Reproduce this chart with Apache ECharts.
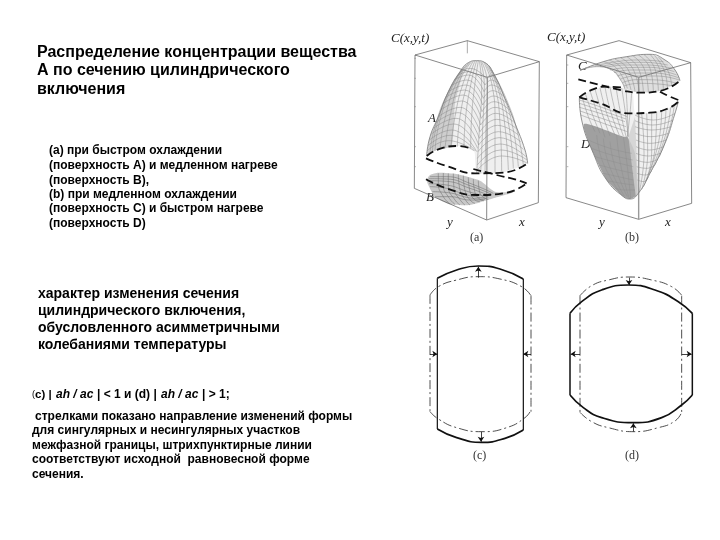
<!DOCTYPE html>
<html><head><meta charset="utf-8">
<style>html,body{margin:0;padding:0;background:#fff}#c{width:720px;height:540px}</style>
<script src="https://cdn.jsdelivr.net/npm/echarts@6/dist/echarts.min.js"></script>
</head><body><div id="c"></div>
<script>
const titleLines=["Распределение концентрации вещества","А по сечению цилиндрического","включения"];
const abLines=["(а) при быстром охлаждении","(поверхность А) и медленном нагреве","(поверхность В),","(b) при медленном охлаждении","(поверхность С) и быстром нагреве","(поверхность D)"];
const changeLines=["характер изменения сечения","цилиндрического включения,","обусловленного асимметричными","колебаниями температуры"];
const noteLines=["стрелками показано направление изменений формы","для сингулярных и несингулярных участков","межфазной границы, штрихпунктирные линии","соответствуют исходной  равновесной форме","сечения."];
// panel a values
const boxA=[[105,105],[262,62],[478,125],[322,172],[105,105],[103,505],[320,600],[475,548],[478,125]];
const boxAFront=[[322,172],[320,600]];
const boxAHidden=[[262,62],[262,100]];
const ticksA=[[103,115],[108,115],null,[103,175],[108,175],null,[103,260],[108,260],null,[103,380],[108,380],null,[103,440],[108,440]];
const domeA=[[140,405],[150,350],[175,290],[205,215],[240,155],[265,128],[290,122],[315,128],[340,160],[375,235],[405,310],[435,390],[443,430],[370,458],[290,460],[283,395],[235,378],[175,388]];
const shadeA=[[142,400],[150,350],[175,290],[205,215],[240,155],[250,150],[225,250],[215,378],[175,388]];
const outlineA=[[140,405],[150,350],[175,290],[205,215],[240,155],[265,128],[290,122],[315,128],[340,160],[375,235],[405,310],[435,390],[443,430]];
const arcsA=[[[318,175],[335,165],[345,175]],[[315,195],[335,180],[354,192]],[[312,215],[335,195],[362,208]],[[310,235],[338,212],[370,228]],[[308,255],[340,228],[378,248]],[[306,275],[342,245],[386,268]],[[304,295],[345,262],[394,288]],[[302,315],[347,280],[401,306]],[[300,335],[350,298],[408,325]],[[298,355],[352,316],[415,345]],[[296,375],[355,335],[422,365]],[[294,395],[357,353],[430,388]],[[292,415],[360,372],[438,410]],[[292,435],[362,390],[441,420]],[[292,450],[365,408],[443,430]],
[[240,155],[270,145],[318,175]],[[231,167],[267,155],[315,195]],[[222,180],[265,165],[312,215]],[[213,197],[261,180],[310,235]],[[205,215],[258,195],[308,255]],[[197,232],[254,210],[306,275]],[[190,250],[250,225],[304,295]],[[182,270],[245,243],[302,315]],[[175,290],[240,262],[300,335]],[[167,308],[234,278],[298,355]],[[160,325],[228,295],[296,375]],[[154,342],[221,312],[293,385]],[[148,360],[215,330],[290,395]],[[145,376],[210,346],[286,393]],[[142,392],[205,362],[282,392]]];
const meridiansA=[[[302,124],[313,195],[308,325],[302,460]],[[310,125],[335,190],[345,300],[345,458]],[[315,127],[345,200],[360,310],[365,454]],[[320,130],[355,210],[375,320],[385,450]],[[325,135],[362,218],[388,325],[400,445]],[[330,140],[370,225],[400,330],[415,440]],[[335,150],[378,235],[412,335],[430,435]],[[305,125],[322,190],[318,320],[315,460]],[[298,123],[305,200],[298,330],[290,460]],
[[285,122],[262,190],[240,290],[232,380]],[[290,122],[273,190],[257,290],[252,380]],[[280,123],[251,185],[225,290],[213,382]],[[275,125],[240,180],[210,290],[195,385]],[[270,127],[231,185],[195,295],[180,388]],[[265,130],[222,190],[180,300],[165,392]],[[258,135],[214,200],[172,310],[157,395]],[[295,122],[285,190],[275,290],[272,385]],[[252,142],[205,215],[165,320],[150,398]]];
const backA=[[140,408],[175,388],[235,378],[275,387]];
const frontA=[[138,415],[205,440],[285,460],[370,458],[443,430]];
const midDashA=[[138,478],[200,505],[290,525],[380,518],[440,490]];
const backB=[[280,447],[350,465],[405,478],[440,490]];
const bowlB=[[140,482],[150,465],[175,458],[230,462],[300,482],[345,515],[400,517],[340,535],[270,555],[210,553],[165,530]];
const meshB=[[[150,470],[200,470],[270,490],[340,520]],[[147,476],[200,477],[270,497],[335,523]],[[145,482],[200,484],[270,505],[330,527]],[[147,491],[200,495],[265,515],[325,531]],[[150,500],[200,505],[260,525],[320,535]],[[157,515],[205,518],[265,533],[315,538]],[[165,530],[210,530],[270,540],[310,540]],[[175,460],[175,490],[190,530],[210,552]],[[190,459],[190,495],[208,535],[225,553]],[[205,460],[205,500],[225,540],[240,555]],[[220,461],[222,505],[243,543],[255,555]],[[235,463],[240,510],[260,545],[270,555]],[[250,467],[255,512],[272,542],[285,550]],[[265,472],[270,515],[285,540],[300,545]],[[280,477],[285,518],[300,538],[312,542]],[[295,482],[300,520],[315,535],[325,538]]];
// panel b values
const boxB=[[80,105],[237,62],[452,128],[296,172],[80,105],[78,533],[296,598],[455,550],[452,128]];
const boxBFront=[[296,172],[296,598]];
const ticksB=[[80,135],[85,135],null,[80,190],[85,190],null,[80,260],[85,260],null,[80,380],[85,380],null,[80,440],[85,440]];
const capC=[[120,150],[190,125],[260,110],[330,103],[375,120],[405,150],[420,182],[360,213],[300,218],[255,208],[245,185],[215,150],[170,140]];
const topC=[[120,152],[190,125],[260,110],[330,103],[375,120],[405,150],[420,182]];
const innerC=[[120,150],[170,140],[215,150],[245,185],[255,208]];
const meshC=[[[165,138],[230,125],[300,120],[370,125]],[[180,140],[242,130],[310,127],[383,135]],[[195,143],[255,135],[320,135],[395,145]],[[210,150],[262,143],[328,142],[403,155]],[[222,158],[270,150],[335,150],[410,165]],[[232,168],[278,159],[343,159],[415,173]],[[240,178],[285,168],[350,168],[418,180]],[[247,188],[290,179],[352,180],[410,190]],[[252,198],[295,190],[355,192],[400,198]],
[[190,125],[230,145],[262,205]],[[208,121],[246,145],[273,210]],[[225,118],[262,145],[285,215]],[[243,114],[278,145],[298,217]],[[260,110],[295,145],[310,218]],[[278,107],[312,145],[325,217]],[[295,105],[330,145],[340,215]],[[312,104],[345,147],[355,212]],[[330,103],[360,150],[370,208]],[[343,106],[373,152],[382,203]],[[355,110],[385,155],[395,198]]];
const frontC=[[115,178],[180,195],[250,212],[300,218],[360,213],[420,182]];
const dashBack=[[360,215],[390,230],[415,240]];
const backD=[[118,232],[150,212],[200,200],[250,203]];
const frontD=[[118,232],[180,250],[265,280],[330,278],[385,265],[415,245]];
const outlineD=[[118,235],[125,300],[160,400],[200,480],[250,530],[270,537],[295,520],[330,460],[375,370],[405,280],[415,245]];
const bowlD=[[118,235],[150,212],[200,200],[250,203],[278,215],[285,280],[330,278],[385,265],[415,245],[405,280],[375,370],[330,460],[295,520],[270,537],[250,530],[200,480],[160,400],[125,300]];
const shadeD=[[132,312],[250,350],[262,350],[285,400],[290,525],[270,537],[250,530],[200,480],[160,400]];
const shadeDRight=[[265,350],[285,290],[295,520],[287,528]];
const meshDLines=[[[118,262],[180,280],[255,305]],[[120,273],[185,295],[258,320]],[[122,285],[190,310],[262,335]],[[118,240],[185,262],[262,290]],[[118,250],[183,271],[258,297]],[[135,218],[160,290],[180,340]],[[150,212],[175,290],[195,352]],[[165,207],[188,285],[210,348]],[[180,203],[200,280],[225,345]],[[195,201],[212,275],[238,346]],[[210,200],[225,270],[250,348]],[[125,225],[145,290],[165,335]],[[228,201],[240,270],[258,349]],[[245,204],[255,270],[265,350]],[[275,215],[270,280],[262,350]],[[258,207],[262,275],[264,350]],
[[285,285],[340,300],[405,280]],[[285,302],[338,315],[399,300]],[[285,320],[335,330],[393,320]],[[286,340],[332,350],[385,340]],[[288,360],[330,370],[378,360]],[[288,380],[328,390],[370,380]],[[288,400],[325,408],[360,400]],[[289,420],[322,427],[352,418]],[[290,440],[320,445],[345,435]],[[291,460],[316,465],[335,453]],[[292,480],[312,485],[325,470]],[[305,282],[312,400],[298,515]],[[320,280],[323,400],[305,508]],[[335,280],[335,400],[310,500]],[[350,276],[345,385],[318,482]],[[365,272],[355,370],[325,465]],[[378,267],[367,355],[335,450]],[[392,262],[378,340],[345,435]],[[403,255],[390,320],[358,410]]];
const meshDShade=[[[145,360],[210,385],[275,400]],[[155,385],[215,405],[278,420]],[[165,410],[220,425],[280,440]],[[177,435],[227,448],[280,460]],[[190,460],[235,470],[280,480]],[[207,483],[245,490],[282,495]],[[225,505],[255,510],[285,510]],[[210,365],[225,440],[262,530]],[[170,345],[190,430],[245,525]],[[190,355],[207,435],[253,528]],[[230,345],[243,440],[267,533]],[[250,350],[262,440],[272,535]]];
// panel c values
const topArcC=[[82,70],[140,45],[205,33],[270,42],[340,72]];
const bottomArcC=[[82,522],[140,548],[215,562],[285,550],[340,525]];
const sidesC=[[[82,70],[82,522]],[[340,72],[340,525]]];
const dotC=[[[60,120],[85,95],[140,75],[205,65],[270,72],[335,95],[363,122]],[[60,120],[60,470]],[[363,122],[363,470]],[[60,470],[85,492],[140,518],[215,530],[290,518],[345,488],[363,465]]];
const arrowsC=[[[205,68],[205,35]],[[60,297],[82,297]],[[363,297],[340,297]],[[213,530],[213,560]]];
// panel d values
const topArcD=[[45,175],[80,140],[140,105],[220,90],[300,105],[370,140],[412,175]];
const bottomArcD=[[45,420],[85,458],[140,488],[235,503],[320,488],[380,450],[412,420]];
const sidesD=[[[45,175],[45,420]],[[412,175],[412,420]]];
const dotD=[[[75,122],[110,92],[160,75],[222,66],[290,75],[350,95],[381,122]],[[75,122],[75,472]],[[380,122],[380,472]],[[75,472],[110,500],[160,518],[235,530],[310,518],[360,498],[380,472]]];
const arrowsD=[[[222,68],[222,90]],[[75,297],[47,297]],[[380,297],[410,297]],[[235,530],[235,505]]];

const series=[];
function line(p,pts,color,width,type,smooth){series.push({type:'line',xAxisIndex:p,yAxisIndex:p,data:pts,showSymbol:false,symbol:'none',smooth:!!smooth,connectNulls:false,animation:false,silent:true,lineStyle:{color,width,type:type||'solid',cap:'butt'},z:3});}
function fill(p,pts,color,op,sm){series.push({type:'custom',xAxisIndex:p,yAxisIndex:p,data:[0],animation:false,silent:true,z:1,renderItem:(a,api)=>({type:'polygon',shape:{points:pts.map(q=>api.coord(q)),smooth:sm||0},style:{fill:color,opacity:op}})});}
function arrows(p,list){series.push({type:'line',xAxisIndex:p,yAxisIndex:p,data:[],animation:false,silent:true,markLine:{silent:true,animation:false,symbol:['none','arrow'],symbolSize:5,label:{show:false},lineStyle:{color:'#111',width:0.8,type:'solid'},data:list.map(s=>[{coord:s[0]},{coord:s[1]}])}});}
const BOX='#555',MESH='#8a8a8a',DASH=[8,4],DOT=[9,3,2,3];
// a
fill(0,domeA,'#efefef',1,0.1);fill(0,shadeA,'#c0c0c0',0.7,0.2);fill(0,bowlB,'#c2c2c2',0.9,0.2);
line(0,boxA,BOX,0.7);line(0,boxAFront,'#888',1);line(0,boxAHidden,BOX,0.5);line(0,ticksA,'#888',0.6);
arcsA.forEach(s=>line(0,s,MESH,0.5,'solid',true));meridiansA.forEach(s=>line(0,s,MESH,0.5,'solid',true));
meshB.forEach(s=>line(0,s,'#666',0.5,'solid',true));
line(0,outlineA,'#777',0.8,'solid',true);
line(0,backA,'#111',1.8,DASH,true);line(0,frontA,'#111',1.8,DASH,true);line(0,midDashA,'#111',1.8,DASH,true);line(0,backB,'#111',1.8,DASH,true);
// b
fill(1,capC,'#d6d6d6',0.8,0.2);fill(1,bowlD,'#f0f0f0',1,0.1);fill(1,shadeD,'#a0a0a0',1,0.2);fill(1,shadeDRight,'#d0d0d0',0.8);
line(1,boxB,BOX,0.7);line(1,boxBFront,'#999',1.4);line(1,ticksB,'#888',0.6);
meshC.forEach(s=>line(1,s,MESH,0.5,'solid',true));line(1,topC,'#777',0.8,'solid',true);line(1,innerC,'#888',0.6,'solid',true);
meshDLines.forEach(s=>line(1,s,MESH,0.5,'solid',true));meshDShade.forEach(s=>line(1,s,'#8c8c8c',0.4,'solid',true));line(1,outlineD,'#777',0.8,'solid',true);
line(1,frontC,'#111',1.8,DASH,true);line(1,dashBack,'#111',1.8,DASH,true);line(1,backD,'#111',1.8,DASH,true);line(1,frontD,'#111',1.8,DASH,true);
// c
dotC.forEach(s=>line(2,s,'#222',0.8,DOT,true));line(2,topArcC,'#111',1.7,'solid',true);line(2,bottomArcC,'#111',1.7,'solid',true);sidesC.forEach(s=>line(2,s,'#111',1.2));arrows(2,arrowsC);
// d
dotD.forEach(s=>line(3,s,'#222',0.8,DOT,true));line(3,topArcD,'#111',1.7,'solid',true);line(3,bottomArcD,'#111',1.7,'solid',true);sidesD.forEach(s=>line(3,s,'#111',1.5));arrows(3,arrowsD);

const panels=[[380,20,170,230],[540,20,170,230],[410,255,150,215],[555,255,150,215]];
const grid=panels.map(p=>({left:p[0],top:p[1],width:p[2],height:p[3],show:false}));
const xAxis=panels.map((p,i)=>({gridIndex:i,type:'value',show:false,min:0,max:p[2]*3}));
const yAxis=panels.map((p,i)=>({gridIndex:i,type:'value',show:false,inverse:true,min:0,max:p[3]*3}));

const SANS='"Liberation Sans",Arial,sans-serif',SERIF='"Liberation Serif",serif';
function T(x,y,text,size,weight,family,style,color){return {type:'text',x,y,silent:true,style:{text,fill:color||'#000',font:(style||'normal')+' '+(weight||'normal')+' '+size+'px '+(family||SANS),verticalAlign:'middle',align:'left'}};}
const g=[];
const ty=[52.7,70.7,89.3];titleLines.forEach((s,i)=>g.push(T(37,ty[i],s,16,'bold')));
const ay=[151,165.7,180.3,194.3,209,224];abLines.forEach((s,i)=>g.push(T(49,ay[i],s,12,'bold')));
const cy=[294.3,310.7,327.7,345];changeLines.forEach((s,i)=>g.push(T(38,cy[i],s,14,'bold')));
g.push(T(32,395,'(',9),T(35,395,'c) | ',11.5,'bold'),T(56,395,'ah / ac',12,'bold',SANS,'italic'),T(97,395,'| < 1 и (d) | ',12,'bold'),T(161,395,'ah / ac',12,'bold',SANS,'italic'),T(202,395,'| > 1;',12,'bold'));
const ny=[416.7,431,445.7,459.3,475],nx=[35,32,32,32,32];noteLines.forEach((s,i)=>g.push(T(nx[i],ny[i],s,12,'bold')));
[[391,39,'C(x,y,t)'],[547,38,'C(x,y,t)'],[428,119,'A'],[426,198,'B'],[578,67,'C'],[581,145,'D'],[447,223,'y'],[519,223,'x'],[599,223,'y'],[665,223,'x']].forEach(a=>g.push(T(a[0],a[1],a[2],13,'normal',SERIF,'italic','#222')));
[[470,238,'(a)'],[625,238,'(b)'],[473,456,'(c)'],[625,456,'(d)']].forEach(a=>g.push(T(a[0],a[1],a[2],12,'normal',SERIF,'normal','#333')));

echarts.init(document.getElementById('c'),null,{renderer:'canvas'}).setOption({animation:false,backgroundColor:'#fff',grid,xAxis,yAxis,series,graphic:{elements:g}});
</script></body></html>
